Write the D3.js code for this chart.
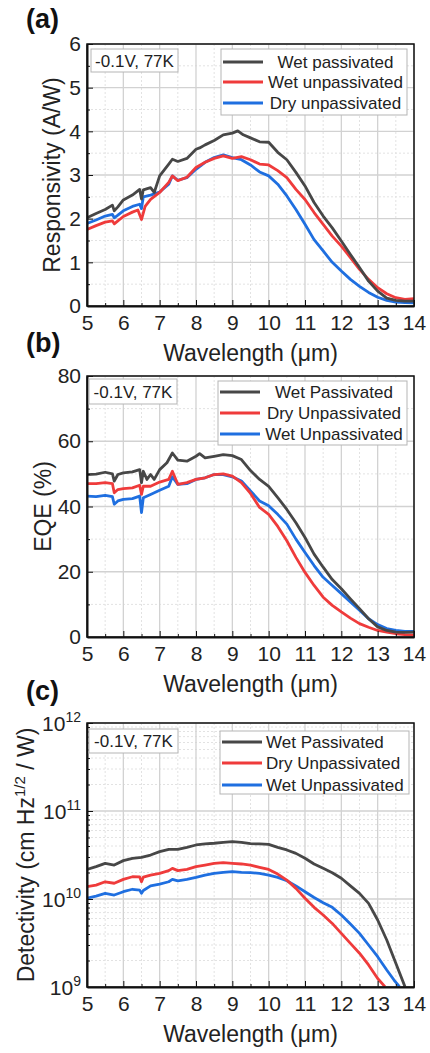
<!DOCTYPE html>
<html lang="en">
<head>
  <meta charset="UTF-8">
  <title>Responsivity, EQE and Detectivity</title>
  <script src="https://d3js.org/d3.v7.min.js"></script>
  <style>
    body {
      margin: 0;
      background: #fff;
      font-family: "Liberation Sans", Arial, sans-serif;
    }

    .grid-major {
      stroke: #d2d2d2;
      stroke-width: 1.3px;
    }

    .grid-minor {
      stroke: #e2e2e2;
      stroke-width: 1px;
      stroke-dasharray: 2, 2;
    }

    .series {
      fill: none;
      stroke-width: 2.8px;
      stroke-linejoin: round;
    }

    .axis text {
      font: 21px "Liberation Sans", Arial, sans-serif;
      fill: #222;
    }

    .axis path,
    .axis line {
      stroke: #111;
    }

    .title {
      font: 23px "Liberation Sans", Arial, sans-serif;
      fill: #222;
    }

    .legend text,
    .note text {
      font: 17px "Liberation Sans", Arial, sans-serif;
      fill: #222;
    }
  </style>
</head>
<body>
  <svg id="chart" width="430" height="1053"></svg>

  <script>
    // ---- data ----
    const xTicks = [5, 6, 7, 8, 9, 10, 11, 12, 13, 14];
    const conditionText = "-0.1V, 77K";
    const colors = ["#474747", "#ef3b3b", "#1f6fe0"];

    // (a) responsivity, A/W
    const respNames = ["Wet passivated", "Wet unpassivated", "Dry unpassivated"];
    const respWetPass = [[5.0,2.02],[5.25,2.12],[5.5,2.21],[5.7,2.31],[5.75,2.18],[5.85,2.27],[6.0,2.43],[6.25,2.54],[6.45,2.67],[6.5,2.45],[6.55,2.66],[6.75,2.71],[6.85,2.6],[7.0,2.98],[7.25,3.25],[7.35,3.36],[7.5,3.31],[7.75,3.38],[8.0,3.59],[8.1,3.62],[8.25,3.69],[8.5,3.79],[8.75,3.92],[9.0,3.96],[9.15,4.01],[9.3,3.92],[9.5,3.85],[9.75,3.76],[10.0,3.75],[10.25,3.52],[10.5,3.35],[10.75,3.06],[11.0,2.75],[11.25,2.37],[11.5,2.06],[11.75,1.79],[12.0,1.49],[12.25,1.18],[12.5,0.88],[12.75,0.57],[13.0,0.34],[13.25,0.18],[13.5,0.13],[13.75,0.11],[14.0,0.11]];
    const respWetUnpass = [[5.0,1.75],[5.25,1.84],[5.5,1.92],[5.7,1.95],[5.75,1.88],[5.85,1.95],[6.0,2.05],[6.25,2.15],[6.4,2.2],[6.5,1.98],[6.6,2.28],[6.75,2.44],[7.0,2.6],[7.25,2.83],[7.35,2.98],[7.5,2.87],[7.75,2.95],[8.0,3.17],[8.25,3.29],[8.5,3.38],[8.75,3.44],[9.0,3.38],[9.25,3.42],[9.5,3.35],[9.75,3.25],[10.0,3.23],[10.25,3.1],[10.5,2.94],[10.75,2.67],[11.0,2.44],[11.25,2.14],[11.5,1.87],[11.75,1.6],[12.0,1.37],[12.25,1.11],[12.5,0.84],[12.75,0.61],[13.0,0.42],[13.25,0.28],[13.5,0.19],[13.75,0.15],[14.0,0.17]];
    const respDryUnpass = [[5.0,1.89],[5.25,1.97],[5.5,2.06],[5.7,2.1],[5.75,2.02],[5.85,2.08],[6.0,2.18],[6.25,2.28],[6.45,2.33],[6.5,2.23],[6.55,2.5],[6.75,2.54],[7.0,2.61],[7.25,2.79],[7.35,2.98],[7.5,2.88],[7.75,2.94],[8.0,3.13],[8.25,3.29],[8.5,3.4],[8.75,3.46],[9.0,3.4],[9.25,3.35],[9.5,3.23],[9.75,3.07],[10.0,2.98],[10.25,2.79],[10.5,2.52],[10.75,2.21],[11.0,1.87],[11.25,1.52],[11.5,1.26],[11.75,1.0],[12.0,0.8],[12.25,0.61],[12.5,0.45],[12.75,0.31],[13.0,0.2],[13.25,0.13],[13.5,0.09],[13.75,0.08],[14.0,0.07]];
    const respTicks = [0, 1, 2, 3, 4, 5, 6];

    // (b) EQE, %
    const eqeNames = ["Wet Passivated", "Dry Unpassivated", "Wet Unpassivated"];
    const eqeWetPass = [[5.0,49.8],[5.25,49.9],[5.5,50.5],[5.7,50.0],[5.75,47.8],[5.85,49.8],[6.0,50.3],[6.25,50.6],[6.45,51.3],[6.5,47.3],[6.55,50.8],[6.65,48.3],[6.75,49.8],[6.85,48.3],[7.0,51.3],[7.2,53.4],[7.35,56.4],[7.5,54.2],[7.75,53.9],[8.0,55.4],[8.1,56.2],[8.25,54.9],[8.5,55.4],[8.75,55.9],[9.0,55.6],[9.25,54.4],[9.5,51.0],[9.75,48.3],[10.0,46.2],[10.25,42.7],[10.5,39.1],[10.75,35.0],[11.0,30.5],[11.25,25.4],[11.5,21.4],[11.75,17.6],[12.0,14.8],[12.25,11.7],[12.5,8.7],[12.75,5.6],[13.0,3.1],[13.25,2.0],[13.5,1.5],[13.75,1.4],[14.0,1.5]];
    const eqeDryUnpass = [[5.0,47.0],[5.25,47.0],[5.5,47.3],[5.7,47.0],[5.75,44.2],[5.85,45.2],[6.0,45.5],[6.25,45.7],[6.45,46.5],[6.5,43.7],[6.55,46.2],[6.75,46.2],[7.0,47.5],[7.25,48.3],[7.35,50.8],[7.5,46.8],[7.75,47.3],[8.0,48.3],[8.25,48.8],[8.5,49.8],[8.75,50.0],[9.0,49.3],[9.25,47.3],[9.5,44.0],[9.75,39.7],[10.0,37.6],[10.25,33.9],[10.5,29.5],[10.75,24.4],[11.0,19.8],[11.25,15.8],[11.5,12.2],[11.75,9.7],[12.0,7.7],[12.25,5.8],[12.5,4.1],[12.75,3.0],[13.0,2.0],[13.25,1.5],[13.5,1.0],[13.75,0.7],[14.0,0.6]];
    const eqeWetUnpass = [[5.0,43.2],[5.25,43.0],[5.5,43.4],[5.7,43.0],[5.75,40.7],[5.85,41.7],[6.0,42.2],[6.25,42.4],[6.45,43.2],[6.5,38.1],[6.55,42.7],[6.75,43.7],[7.0,45.0],[7.25,46.2],[7.35,49.1],[7.5,46.8],[7.75,47.0],[8.0,48.3],[8.25,48.8],[8.5,49.8],[8.75,49.8],[9.0,49.1],[9.25,47.8],[9.5,44.8],[9.75,41.7],[10.0,40.2],[10.25,37.6],[10.5,34.6],[10.75,30.0],[11.0,25.9],[11.25,21.9],[11.5,18.3],[11.75,15.8],[12.0,13.3],[12.25,10.7],[12.5,8.2],[12.75,5.6],[13.0,3.8],[13.25,2.6],[13.5,2.0],[13.75,1.7],[14.0,1.7]];
    const eqeTicks = [0, 20, 40, 60, 80];

    // (c) detectivity, cm Hz^1/2 / W
    const detNames = ["Wet Passivated", "Dry Unpassivated", "Wet Unpassivated"];
    const detWetPass = [[5.0,2.17e10],[5.25,2.33e10],[5.5,2.54e10],[5.75,2.43e10],[6.0,2.73e10],[6.25,2.90e10],[6.5,2.97e10],[6.75,3.16e10],[7.0,3.45e10],[7.25,3.66e10],[7.5,3.66e10],[7.75,3.86e10],[8.0,4.11e10],[8.25,4.22e10],[8.5,4.30e10],[8.75,4.41e10],[9.0,4.49e10],[9.25,4.41e10],[9.5,4.25e10],[9.75,4.22e10],[10.0,4.18e10],[10.25,3.86e10],[10.5,3.61e10],[10.75,3.30e10],[11.0,2.90e10],[11.25,2.50e10],[11.5,2.23e10],[11.75,1.99e10],[12.0,1.72e10],[12.25,1.41e10],[12.5,1.16e10],[12.75,8.93e9],[13.0,5.77e9],[13.25,3.42e9],[13.5,1.86e9],[13.75,1.01e9]];
    const detDryUnpass = [[5.0,1.38e10],[5.25,1.44e10],[5.5,1.57e10],[5.75,1.51e10],[6.0,1.67e10],[6.25,1.79e10],[6.45,1.78e10],[6.5,1.57e10],[6.55,1.77e10],[6.75,1.87e10],[7.0,1.96e10],[7.25,2.10e10],[7.35,2.23e10],[7.5,2.10e10],[7.75,2.17e10],[8.0,2.33e10],[8.25,2.43e10],[8.5,2.54e10],[8.75,2.59e10],[9.0,2.54e10],[9.25,2.50e10],[9.5,2.43e10],[9.75,2.29e10],[10.0,2.17e10],[10.25,1.92e10],[10.5,1.64e10],[10.75,1.32e10],[11.0,1.02e10],[11.25,8.04e9],[11.5,6.58e9],[11.75,5.28e9],[12.0,4.07e9],[12.25,3.13e9],[12.5,2.42e9],[12.75,1.78e9],[13.0,1.25e9],[13.2,1.01e9]];
    const detWetUnpass = [[5.0,1.02e10],[5.25,1.08e10],[5.5,1.16e10],[5.75,1.11e10],[6.0,1.21e10],[6.25,1.29e10],[6.45,1.26e10],[6.5,1.16e10],[6.55,1.25e10],[6.75,1.41e10],[7.0,1.48e10],[7.25,1.57e10],[7.35,1.67e10],[7.5,1.61e10],[7.75,1.67e10],[8.0,1.76e10],[8.25,1.87e10],[8.5,1.96e10],[8.75,2.01e10],[9.0,2.05e10],[9.25,2.01e10],[9.5,1.99e10],[9.75,1.96e10],[10.0,1.87e10],[10.25,1.76e10],[10.5,1.61e10],[10.75,1.41e10],[11.0,1.21e10],[11.25,1.04e10],[11.5,9.08e9],[11.75,8.04e9],[12.0,6.58e9],[12.25,5.20e9],[12.5,4.07e9],[12.75,3.00e9],[13.0,2.21e9],[13.25,1.56e9],[13.45,1.20e9],[13.6,1.01e9]];
    const detTicks = [1e9, 1e10, 1e11, 1e12];

    // ---- layout ----
    const left = 87, right = 414;
    const svg = d3.select("#chart");

    const panels = [
      {
        label: "(a)", labelY: 28, top: 44, bottom: 306,
        y: d3.scaleLinear().domain([0, 6]),
        ticks: respTicks, minor: d3.range(0.5, 6, 1),
        title: "Responsivity (A/W)", titleX: 60,
        series: [respWetPass, respWetUnpass, respDryUnpass], names: respNames,
        legend: {x: 221, y: 49, w: 186, h: 66, rows: [62, 82, 103], align: "middle"},
        note: {x: 91, y: 49, w: 87, h: 23}
      },
      {
        label: "(b)", labelY: 352, top: 376, bottom: 637,
        y: d3.scaleLinear().domain([0, 80]),
        ticks: eqeTicks, minor: d3.range(10, 80, 20),
        title: "EQE (%)", titleX: 51,
        series: [eqeWetPass, eqeDryUnpass, eqeWetUnpass], names: eqeNames,
        legend: {x: 218, y: 381, w: 189, h: 64, rows: [392, 413, 434], align: "middle"},
        note: {x: 89, y: 379, w: 88, h: 25}
      },
      {
        label: "(c)", labelY: 700, top: 723, bottom: 987, log: true,
        y: d3.scaleLog().domain([1e9, 1e12]),
        ticks: detTicks,
        minor: [9, 10, 11].flatMap(e => d3.range(2, 10).map(m => m * Math.pow(10, e))),
        title: "Detectivity (cm Hz", titleSup: "1/2", titleEnd: " / W)", titleX: 34,
        series: [detWetPass, detDryUnpass, detWetUnpass], names: detNames,
        legend: {x: 220, y: 731, w: 189, h: 63, rows: [742, 763, 785], align: "start"},
        note: {x: 89, y: 729, w: 89, h: 24}
      }
    ];

    panels.forEach((p, i) => drawPanel(p, i));

    function drawPanel(p, i) {
      const x = d3.scaleLinear().domain([5, 14]).range([left, right]);
      const y = p.y.range([p.bottom, p.top]);
      const g = svg.append("g");
      const xMinor = d3.range(5.5, 14, 1);

      // grid
      g.selectAll(".gxm").data(xMinor).join("line")
        .attr("class", "grid-minor")
        .attr("x1", d => x(d)).attr("x2", d => x(d))
        .attr("y1", p.top).attr("y2", p.bottom);
      g.selectAll(".gym").data(p.minor).join("line")
        .attr("class", "grid-minor")
        .attr("x1", left).attr("x2", right)
        .attr("y1", d => y(d)).attr("y2", d => y(d));
      g.selectAll(".gx").data(xTicks).join("line")
        .attr("class", "grid-major")
        .attr("x1", d => x(d)).attr("x2", d => x(d))
        .attr("y1", p.top).attr("y2", p.bottom);
      g.selectAll(".gy").data(p.ticks).join("line")
        .attr("class", "grid-major")
        .attr("x1", left).attr("x2", right)
        .attr("y1", d => y(d)).attr("y2", d => y(d));

      // curves, drawn last series first so the black line sits on top
      g.append("clipPath").attr("id", "clip" + i)
        .append("rect")
        .attr("x", left).attr("y", p.top)
        .attr("width", right - left).attr("height", p.bottom - p.top);

      const line = d3.line().x(d => x(d[0])).y(d => y(d[1]));
      const order = [2, 1, 0];
      g.append("g").attr("clip-path", `url(#clip${i})`)
        .selectAll("path").data(order).join("path")
        .attr("class", "series")
        .attr("stroke", k => colors[k])
        .attr("d", k => line(p.series[k]));

      // frame
      g.append("rect")
        .attr("x", left).attr("y", p.top)
        .attr("width", right - left).attr("height", p.bottom - p.top)
        .attr("fill", "none").attr("stroke", "#111").attr("stroke-width", 1.5);

      // axes
      const xAxis = g.append("g").attr("class", "axis")
        .attr("transform", `translate(0,${p.bottom})`)
        .call(d3.axisBottom(x).tickValues(xTicks).tickSizeInner(-6).tickSizeOuter(0).tickPadding(9));
      g.append("g").attr("class", "axis")
        .attr("transform", `translate(0,${p.bottom})`)
        .call(d3.axisBottom(x).tickValues(xMinor).tickSizeInner(-3).tickSizeOuter(0).tickFormat(""));
      xAxis.select(".domain").attr("stroke-width", 2);

      const yAxis = g.append("g").attr("class", "axis")
        .attr("transform", `translate(${left},0)`)
        .call(d3.axisLeft(y).tickValues(p.ticks).tickSizeInner(-6).tickSizeOuter(0).tickPadding(6)
          .tickFormat(p.log ? () => "" : d3.format("d")));
      g.append("g").attr("class", "axis")
        .attr("transform", `translate(${left},0)`)
        .call(d3.axisLeft(y).tickValues(p.minor).tickSizeInner(-3).tickSizeOuter(0).tickFormat(""));
      yAxis.select(".domain").attr("stroke-width", 2);

      if (p.log) {
        const lab = g.selectAll(".loglab").data(p.ticks).join("text")
          .attr("class", "title")
          .attr("text-anchor", "end")
          .attr("x", left - 6)
          .attr("y", d => y(d) + 8)
          .style("font-size", "21px");
        lab.append("tspan").text("10");
        lab.append("tspan").attr("dy", -9).style("font-size", "14px")
          .text(d => Math.round(Math.log10(d)));
      }

      // axis titles
      g.append("text").attr("class", "title")
        .attr("text-anchor", "middle")
        .attr("x", (left + right) / 2)
        .attr("y", p.bottom + 55)
        .text("Wavelength (\u03bcm)");

      const yt = g.append("text").attr("class", "title")
        .attr("text-anchor", "middle")
        .attr("transform", `translate(${p.titleX},${(p.top + p.bottom) / 2}) rotate(-90)`);
      yt.append("tspan").text(p.title);
      if (p.titleSup) {
        yt.append("tspan").attr("dy", -9).style("font-size", "15px").text(p.titleSup);
        yt.append("tspan").attr("dy", 9).text(p.titleEnd);
      }

      // panel label
      g.append("text")
        .attr("x", 26).attr("y", p.labelY)
        .style("font", "bold 27px 'Liberation Sans', Arial, sans-serif")
        .attr("fill", "#111")
        .text(p.label);

      // condition note
      const note = g.append("g").attr("class", "note");
      note.append("rect")
        .attr("x", p.note.x).attr("y", p.note.y)
        .attr("width", p.note.w).attr("height", p.note.h)
        .attr("fill", "#fff").attr("stroke", "#b5b5b5");
      note.append("text")
        .attr("text-anchor", "middle")
        .attr("x", p.note.x + p.note.w / 2)
        .attr("y", p.note.y + p.note.h / 2 + 6)
        .text(conditionText);

      // legend
      const L = p.legend;
      const lg = g.append("g").attr("class", "legend");
      lg.append("rect")
        .attr("x", L.x).attr("y", L.y).attr("width", L.w).attr("height", L.h)
        .attr("fill", "#fff").attr("stroke", "#b5b5b5");
      const row = lg.selectAll(".row").data(p.names).join("g");
      row.append("line")
        .attr("x1", L.x + 2).attr("x2", L.x + 42)
        .attr("y1", (d, k) => L.rows[k]).attr("y2", (d, k) => L.rows[k])
        .attr("stroke", (d, k) => colors[k]).attr("stroke-width", 3);
      row.append("text")
        .attr("text-anchor", L.align)
        .attr("x", L.align === "middle" ? (L.x + 46 + L.x + L.w - 3) / 2 : L.x + 46)
        .attr("y", (d, k) => L.rows[k] + 6)
        .text(d => d);
    }
  </script>
</body>
</html>
